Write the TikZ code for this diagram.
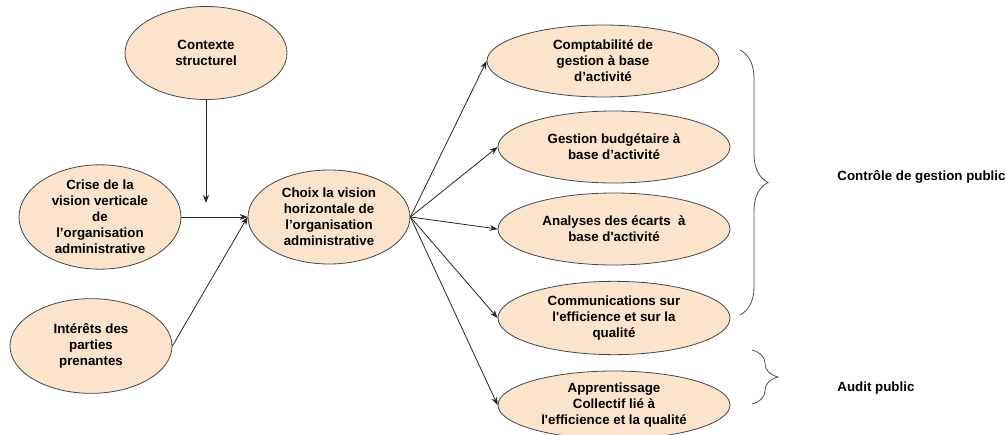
\documentclass[tikz,border=0pt]{standalone}
\usepackage{fontspec}
\setmainfont{Liberation Sans}
\usetikzlibrary{shapes.geometric,arrows.meta,decorations.pathreplacing}
\definecolor{peach}{RGB}{252,228,204}
\definecolor{rim}{RGB}{70,70,70}
\tikzset{every picture/.style={line width=0.6pt}}
\tikzset{bubble/.style={ellipse,draw=rim,fill=peach,inner sep=0pt,align=center,font=\fontsize{10}{12}\selectfont\bfseries}}
\tikzset{link/.style={-{Stealth[length=6pt,width=4.5pt]},draw=black!85}}
\tikzset{curly/.style={draw=black!70,decorate,decoration={brace,amplitude=#1}}}
\tikzset{tag/.style={anchor=west,inner sep=0pt,font=\fontsize{10}{12}\selectfont\bfseries}}

\begin{document}
\begin{tikzpicture}[x=0.75pt,y=0.75pt,yscale=-1,xscale=1]
\useasboundingbox (0,0) rectangle (1006,435);
% left side
\node [bubble,minimum width=121.5pt,minimum height=69.75pt] (ctx) at (206,53) {Contexte\\structurel};
\node [bubble,minimum width=121.5pt,minimum height=70.5pt] (crise) at (100,217) {Crise de la\\vision verticale\\de\\l’organisation\\administrative};
\node [bubble,minimum width=121.5pt,minimum height=71pt] (inter) at (91,346) {Intérêts des\\parties\\prenantes};
\node [bubble,minimum width=121.5pt,minimum height=70.5pt] (choix) at (329,217) {Choix la vision\\horizontale de\\l’organisation\\administrative};
% right side
\node [bubble,minimum width=174pt,minimum height=54pt] (compta) at (603,61) {Comptabilité de\\gestion à base\\d’activité};
\node [bubble,minimum width=174pt,minimum height=54pt] (budget) at (614,147) {Gestion budgétaire à\\base d’activité};
\node [bubble,minimum width=174pt,minimum height=54pt] (ecarts) at (614,229) {Analyses des écarts\ \ à\\base d\textquotesingle activité};
\node [bubble,minimum width=174pt,minimum height=55pt] (comm) at (614,318) {Communications sur\\l\textquotesingle efficience et sur la\\qualité};
\node [bubble,minimum width=174pt,minimum height=51pt] (appr) at (614,405) {Apprentissage\\Collectif lié à\\l\textquotesingle efficience et la qualité};
% connectors
\coordinate (drop) at (206,203);
\draw [link] (ctx) -- (drop);
\draw [link] (crise.east) -- (choix.west);
\draw [link] (inter.east) -- (choix.west);
\foreach \t in {compta,budget,ecarts,comm,appr}
  \draw [link] (choix.east) -- (\t.west);
% braces
\coordinate (b1) at (740,50);
\coordinate (b2) at (740,315);
\coordinate (b3) at (752,350);
\coordinate (b4) at (752,404);
\draw [curly=21pt] (b1) -- (b2);
\draw [curly=19.5pt] (b3) -- (b4);
\node [tag] (cgp) at (837,177) {Contrôle de gestion public};
\node [tag] (audit) at (837,388) {Audit public};
\end{tikzpicture}
\end{document}
